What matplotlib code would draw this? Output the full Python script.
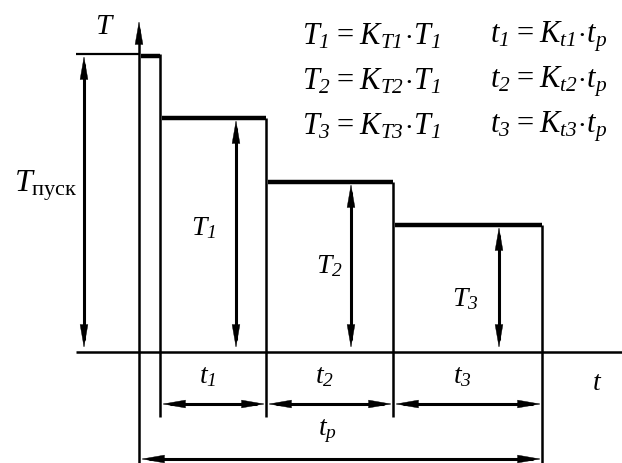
import matplotlib.pyplot as plt
from matplotlib.patches import FancyArrowPatch
import numpy as np

# Ступенчатый график нагрузки (единицы условные)
durations = [21, 106, 127, 149]          # пуск, t1, t2, t3
levels = [298, 234, 170, 127]            # Tпуск, T1, T2, T3
level_labels = [r"$T_{\mathsf{пуск}}$", r"$T_1$", r"$T_2$", r"$T_3$"]
time_labels = [r"$t_1$", r"$t_2$", r"$t_3$"]
formulas_T = [r"$T_1\!=\!K_{T1}\!\cdot\! T_1$",
              r"$T_2\!=\!K_{T2}\!\cdot\! T_1$",
              r"$T_3\!=\!K_{T3}\!\cdot\! T_1$"]
formulas_t = [r"$t_1\!=\!K_{t1}\!\cdot\! t_p$",
              r"$t_2\!=\!K_{t2}\!\cdot\! t_p$",
              r"$t_3\!=\!K_{t3}\!\cdot\! t_p$"]

plt.rcParams['font.family'] = ['Liberation Serif', 'DejaVu Serif']
plt.rcParams['mathtext.fontset'] = 'custom'
plt.rcParams['mathtext.it'] = 'Liberation Serif:italic'
plt.rcParams['mathtext.rm'] = 'Liberation Serif:italic'
plt.rcParams['mathtext.sf'] = 'Liberation Serif'

fig = plt.figure(figsize=(6.22, 4.64), dpi=100)
ax = fig.add_axes([0, 0, 1, 1])
ax.set_xlim(-139, 483)
ax.set_ylim(-111, 353)
ax.axis('off')

edges = np.cumsum([0] + durations)
k = dict(color='black', solid_capstyle='butt')


def head(xt, yt, dx, dy):
    # наконечник стрелки с вершиной в (xt, yt), направление (dx, dy)
    ax.add_patch(FancyArrowPatch((xt - 20 * dx, yt - 20 * dy), (xt, yt),
                                 arrowstyle='-|>,head_length=1.6,head_width=0.28',
                                 mutation_scale=10, lw=0.3, color='black',
                                 shrinkA=0, shrinkB=0))


def dim_arrow(x1, y1, x2, y2, both=True, lw=2.2):
    d = np.hypot(x2 - x1, y2 - y1)
    ux, uy = (x2 - x1) / d, (y2 - y1) / d
    s = 8 if both else 0
    ax.plot([x1 + s * ux, x2 - 8 * ux], [y1 + s * uy, y2 - 8 * uy], lw=lw, **k)
    head(x2, y2, ux, uy)
    if both:
        head(x1, y1, -ux, -uy)


# оси
ax.plot([-63, 483], [0, 0], lw=1.8, **k)
dim_arrow(0, -111, 0, 331, both=False, lw=1.8)
ax.text(-34, 326, r"$T$", fontsize=21, ha='center', va='center')
ax.text(458, -31, r"$t$", fontsize=20, ha='center', va='center')

# выносная линия Tпуск
ax.plot([-63, 0], [levels[0], levels[0]], lw=1.6, **k)

# ступени
for i, (lv, d) in enumerate(zip(levels, durations)):
    x0, x1 = edges[i], edges[i + 1]
    ax.plot([x0 + 2, x1], [lv - 2 if i == 0 else lv] * 2, lw=3.2, **k)
    bottom = -111 if i == len(levels) - 1 else -65
    ax.plot([x1, x1], [lv, bottom], lw=1.8, **k)

# размерные стрелки по вертикали
dim_x = [-55, edges[2] - 30, edges[3] - 42, edges[4] - 43]
for x, lv in zip(dim_x, levels):
    dim_arrow(x, 4, x, lv - 2)

ax.text(-125, 167, level_labels[0], fontsize=23, ha='left', va='center')
lbl_xy = [(65, 125), (190, 87), (326, 54)]
for (x, y), s in zip(lbl_xy, level_labels[1:]):
    ax.text(x, y, s, fontsize=20, ha='center', va='center')

# размерные стрелки по горизонтали
for i in range(1, 4):
    dim_arrow(edges[i] + 2, -52, edges[i + 1] - 1, -52)
    ax.text((edges[i] + edges[i + 1]) / 2 - 5, -24, time_labels[i - 1],
            fontsize=20, ha='center', va='center')
dim_arrow(2, -107, edges[-1] - 1, -107)
ax.text(188, -78, r"$t_p$", fontsize=20, ha='center', va='center')

# формулы
for j, (a, b) in enumerate(zip(formulas_T, formulas_t)):
    y = 316 - j * 45
    ax.text(163, y, a.replace(r"\!=\!", "="), fontsize=22, ha='left', va='center')
    ax.text(351, y, b.replace(r"\!=\!", "="), fontsize=22, ha='left', va='center')

fig.savefig('out.png', dpi=100)
